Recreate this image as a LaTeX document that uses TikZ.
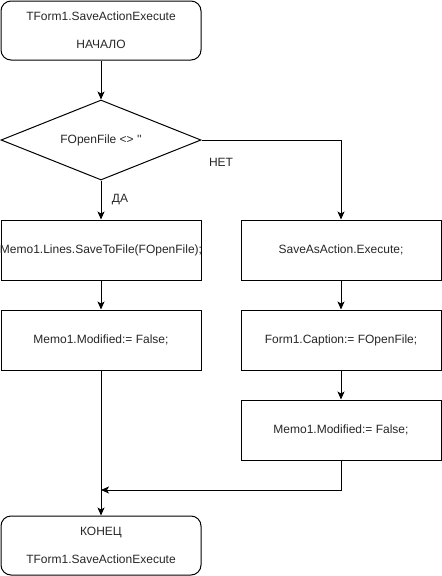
\documentclass[tikz,border=0pt]{standalone}
\usepackage{fontspec}
\setmainfont{Liberation Sans}
\usepackage{tikz}
\usetikzlibrary{shapes.geometric}
\usetikzlibrary{arrows.meta}

\tikzset{
	terminal/.style={draw, line width=0.75pt, rounded corners=7.5pt, minimum width=150pt, minimum height=44.25pt, inner sep=0pt, align=center, font=\fontsize{9pt}{10.8pt}\selectfont, text=black!85},
	process/.style={draw, line width=0.75pt, minimum width=150pt, minimum height=45pt, inner sep=0pt, align=center, font=\fontsize{9pt}{10.8pt}\selectfont, text=black!85},
	decision/.style={draw, diamond, shape aspect=2.5, line width=0.75pt, minimum width=150pt, minimum height=60pt, inner sep=0pt, font=\fontsize{9pt}{10.8pt}\selectfont, text=black!85},
	flow/.style={line width=0.75pt, -{Stealth[length=6pt, width=5.25pt, inset=1.5pt]}}
}

\begin{document}
\begin{tikzpicture}[x=0.75pt, y=-0.75pt]
		\useasboundingbox (0, 0) rectangle (442, 576);
		\node[terminal] (start) at (101, 30.5) {TForm1.SaveActionExecute\\[10.2pt]НАЧАЛО};
		\node[decision] (check) at (101, 140) {FOpenFile <> \textquotesingle\textquotesingle};
		\node[process] (savefile) at (101, 250) {\makebox[0pt]{Memo1.Lines.SaveToFile(FOpenFile);}};
		\node[process] (modleft) at (101, 340) {Memo1.Modified:= False;};
		\node[process] (saveas) at (341, 250) {SaveAsAction.Execute;};
		\node[process] (caption) at (341, 340) {Form1.Caption:= FOpenFile;};
		\node[process] (modright) at (341, 430) {Memo1.Modified:= False;};
		\node[terminal] (finish) at (101, 545.5) {КОНЕЦ\\[10.2pt]TForm1.SaveActionExecute};
		\coordinate (join) at (101, 490);

		\draw[flow] (start) to (check);
		\draw[flow] (check.south) to node[midway, xshift=14.25pt, font=\fontsize{9pt}{10.8pt}\selectfont, text=black!85] {ДА} (savefile);
		\draw[flow] (check.east) -| node[pos=0.07, yshift=-16.5pt, font=\fontsize{9pt}{10.8pt}\selectfont, text=black!85] {НЕТ} (saveas);
		\draw[flow] (savefile) to (modleft);
		\draw[flow] (modleft) to (finish);
		\draw[flow] (saveas) to (caption);
		\draw[flow] (caption) to (modright);
		\draw[flow] (modright.south) |- (join);
	\end{tikzpicture}
\end{document}
